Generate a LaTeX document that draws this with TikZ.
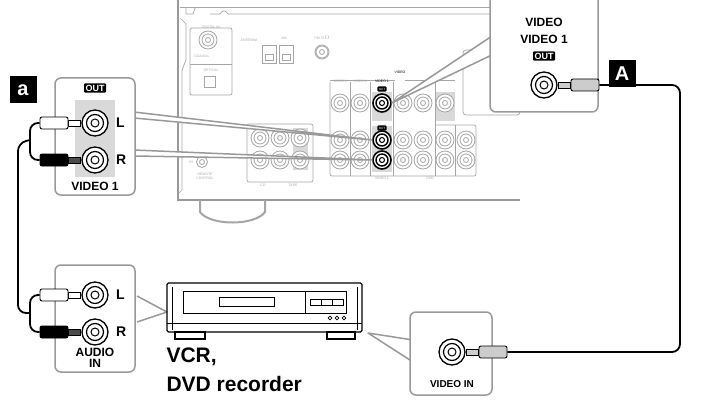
\documentclass[tikz,border=0pt]{standalone}
\usepackage{fontspec}
\setmainfont{Liberation Sans}
\usetikzlibrary{positioning}
\tikzset{
    jack/.style={circle,draw,line width=1.3pt,minimum size=26pt,inner sep=0,fill=white,
        path picture={\draw[line width=1.2pt] (path picture bounding box.center) circle (8.5pt);
                      \draw[line width=1pt] (path picture bounding box.center) circle (4pt);}},
    pjack/.style={jack,draw=gray!70,line width=0.8pt,minimum size=18pt,
        path picture={\draw[gray!70] (path picture bounding box.center) circle (6pt);
                      \draw[gray!70] (path picture bounding box.center) circle (2.5pt);}},
    bjack/.style={pjack,draw=black,line width=1.6pt,
        path picture={\draw[line width=1.4pt] (path picture bounding box.center) circle (6pt);
                      \draw[line width=1pt] (path picture bounding box.center) circle (2.5pt);}},
    plug/.style={draw,line width=0.9pt,rectangle,rounded corners=2pt,minimum width=28pt,minimum height=12pt,inner sep=0},
    tip/.style={draw,line width=0.9pt,rectangle,minimum width=12pt,minimum height=6pt,inner sep=0},
    box/.style={draw=gray!80,line width=1.5pt,rounded corners=6pt},
    callout/.style={draw=gray!80,line width=1.5pt,fill=white,line join=round},
    cable/.style={line width=1.8pt,rounded corners=8pt},
    badge/.style={fill=black,text=white,font=\bfseries\fontsize{20}{20}\selectfont,minimum size=27pt,inner sep=0},
    outlbl/.style={fill=black,text=white,font=\bfseries\fontsize{9}{9}\selectfont,inner sep=1.5pt,rounded corners=1pt},
    lbl/.style={font=\bfseries\fontsize{14}{14}\selectfont},
    tiny/.style={font=\fontsize{3.5}{4}\selectfont,text=gray!70,inner sep=0.5pt},
    panel/.style={draw=gray!70,line width=0.7pt}
}
\begin{document}
\begin{tikzpicture}[x=1pt,y=-1pt]
    \useasboundingbox (0,0) rectangle (706,401);

    % receiver rear panel
    \draw[line width=1.2pt,gray!80] (178,0) -- (178,200) -- (520,200);
    \draw[panel,line width=1pt] (180,8) -- (520,8);
    \draw[panel] (186,8) -- (186,14) -- (193,14) -- (195,8) (210,14) -- (220,14) .. controls (222,10) and (226,10) .. (228,14) -- (520,14);
    \draw[panel] (180,18) -- (186,24) -- (186,60) -- (182,70) -- (182,190) -- (178,194);
    \draw[line width=2pt,gray!70] (200,200) -- (200,212) .. controls (210,226) and (255,226) .. (265,212) -- (265,200);
    % digital in
    \draw[panel,rounded corners=2pt] (190,28) rectangle (232,95);
    \draw[panel] (190,64) -- (232,64);
    \node[pjack] (coax) at (208,40) {};
    \node[panel,rectangle,minimum size=11pt,line width=0.9pt] (opt) at (210,82) {};
    \node[tiny] at (211,27) {DIGITAL IN};
    \node[tiny] at (202,56) {COAXIAL};
    \node[tiny] at (211,70) {OPTICAL};
    % antenna
    \node[tiny,anchor=west] at (240,40) {ANTENNA};
    \node[tiny] at (284,38) {AM};
    \foreach \x in {262,279} {
        \draw[panel,line width=0.9pt] (\x,45) rectangle ++(14,18);
        \draw[panel] (\x+3,54) rectangle ++(8,6);
    }
    \node[tiny] at (322,38) {FM 75$\Omega$};
    \node[pjack,minimum size=14pt] (fm) at (322,52) {};
    % speakers
    \draw[panel,rounded corners=3pt] (463,50) rectangle (520,115);
    \node[tiny] at (495,53) {FRONT};
    \node[tiny] at (495,57) {SPEAKERS B};
    % tape / cd block
    \fill[gray!30] (293,128) rectangle (308,170);
    \draw[panel,rounded corners=2pt] (247,124) rectangle (313,182);
    \node[tiny] at (263,185) {CD};
    \node[tiny] at (293,185) {TAPE};
    \foreach \x in {260,280,300} {
        \node[pjack] at (\x,138) {};
        \node[pjack] at (\x,160) {};
    }
    \node[pjack,minimum size=11pt] (remote) at (202,162) {};
    \node[tiny] at (191,162) {RI};
    \node[tiny] at (205,174) {REMOTE};
    \node[tiny] at (205,178) {CONTROL};
    % video block
    \fill[gray!30] (372,92) rectangle (392,121);
    \fill[gray!30] (372,126) rectangle (392,172);
    \fill[gray!30] (435,92) rectangle (455,121);
    \draw[panel] (330,80) -- (395,80) (405,80) -- (455,80);
    \node[tiny,text=black] at (400,72) {VIDEO};
    \node[tiny,text=black] at (382,81) {VIDEO 1};
    \node[tiny] at (340,81) {VIDEO 3};
    \node[tiny] at (360,81) {VIDEO 2};
    \node[tiny] at (382,178) {VIDEO 1};
    \node[tiny] at (430,178) {DVD};
    \node[outlbl,font=\fontsize{3}{3}\selectfont] at (382,89) {OUT};
    \node[outlbl,font=\fontsize{3}{3}\selectfont] at (382,128) {OUT};
    \draw[panel] (350,82) -- (350,176) (370,82) -- (370,176) (393,82) -- (393,176) (435,82) -- (435,176) (455,125) -- (455,176);
    \draw[panel,rounded corners=2pt] (330,82) -- (330,176) -- (476,176) -- (476,125) -- (435,125);
    \foreach \x in {340,360,403,423,445} \node[pjack] at (\x,103) {};
    \foreach \x in {340,360,403,423,445,466} {
        \node[pjack] at (\x,140) {};
        \node[pjack] at (\x,160) {};
    }
    \node[bjack] (vout) at (382,103) {};
    \node[bjack] (lout) at (382,140) {};
    \node[bjack] (rout) at (382,160) {};

    % callouts
    \draw[callout] (134,112) -- (lout.west) -- (134,118);
    \draw[callout] (134,150) -- (rout.west) -- (134,156);
    \draw[callout] (498,32) -- (vout.east) -- (498,52);
    \draw[callout] (137,296) -- (167,312) -- (137,322);
    \draw[callout] (413,340) -- (368,333) -- (413,362);

    % out box a
    \draw[box,fill=white] (55,78) rectangle (135,195);
    \fill[gray!30] (75,100) rectangle (115,177);
    \node[outlbl] (outa) at (95,88) {OUT};
    \node[jack] (al) at (95,123) {};
    \node[jack] (ar) at (95,160) {};
    \node[lbl,right=4pt of al] {L};
    \node[lbl,right=4pt of ar] {R};
    \node[lbl,font=\bfseries\fontsize{12}{12}\selectfont] at (95,186) {VIDEO 1};
    \node[badge] (a) at (23,90) {a};

    % audio in box
    \draw[box,fill=white] (55,265) rectangle (135,372);
    \node[jack] (il) at (95,295) {};
    \node[jack] (ir) at (95,332) {};
    \node[lbl,right=4pt of il] {L};
    \node[lbl,right=4pt of ir] {R};
    \node[lbl,font=\bfseries\fontsize{12}{11}\selectfont,align=center] at (95,358) {AUDIO\\IN};

    % video out box
    \draw[box,fill=white] (490,-10) rectangle (598,112);
    \node[lbl,font=\bfseries\fontsize{12}{12}\selectfont] at (544,22) {VIDEO};
    \node[lbl,font=\bfseries\fontsize{12}{12}\selectfont] at (544,39) {VIDEO 1};
    \node[outlbl] at (544,56) {OUT};
    \node[jack] (vo) at (544,85) {};
    \node[badge] (A) at (622,74) {A};

    % video in box
    \draw[box,fill=white] (410,312) rectangle (492,395);
    \node[jack] (vi) at (452,352) {};
    \node[font=\bfseries\fontsize{10}{10}\selectfont] at (452,384) {VIDEO IN};

    % VCR
    \draw[line width=1.4pt,rounded corners=1.5pt] (167,283) rectangle (362,332);
    \draw[line width=0.9pt] (172,287) -- (172,330) (357,287) -- (357,330) (167,323) -- (362,323);
    \draw[line width=0.9pt] (183,291) rectangle (346,313);
    \draw[line width=0.9pt] (305,291) -- (305,313);
    \draw[line width=0.9pt] (219,297) rectangle (274,306);
    \foreach \x in {310,321,332} \draw[line width=0.9pt] (\x,299) rectangle ++(11,6);
    \foreach \x in {330,337,344} \draw[line width=0.7pt] (\x,318) circle (1.8pt);
    \draw[line width=1.2pt] (175,332) rectangle (205,339) (327,332) rectangle (355,339);
    \node[anchor=west,font=\bfseries\fontsize{21}{21}\selectfont] (vcr) at (163,357) {VCR,};
    \node[anchor=west,font=\bfseries\fontsize{21}{21}\selectfont] (dvd) at (163,384) {DVD recorder};

    % plugs
    \node[tip,fill=white,anchor=east] (alt) at (al.west) {};
    \node[plug,fill=white,anchor=east] (alp) at (alt.west) {};
    \node[tip,fill=black!70,anchor=east] (art) at (ar.west) {};
    \node[plug,fill=black,anchor=east] (arp) at (art.west) {};
    \node[tip,fill=white,anchor=east] (ilt) at (il.west) {};
    \node[plug,fill=white,anchor=east] (ilp) at (ilt.west) {};
    \node[tip,fill=black!70,anchor=east] (irt) at (ir.west) {};
    \node[plug,fill=black,anchor=east] (irp) at (irt.west) {};
    \node[tip,fill=gray!40,anchor=west] (vot) at (vo.east) {};
    \node[plug,fill=gray!40,anchor=west] (vop) at (vot.east) {};
    \node[tip,fill=gray!40,anchor=west] (vit) at (vi.east) {};
    \node[plug,fill=gray!40,anchor=west] (vip) at (vit.east) {};

    % cables
    \coordinate (j1) at (18,143);
    \coordinate (j2) at (18,313);
    \draw[cable] (alp.west) -- (30,123) -- (30,160) -- (arp.west);
    \draw[cable] (ilp.west) -- (30,295) -- (30,332) -- (irp.west);
    \draw[cable] (30,140) -- (j1) -- (j2) -- (30,313);
    \draw[cable] (vop.east) -- (680,85) -- (680,352) -- (vip.east);
\end{tikzpicture}
\end{document}
